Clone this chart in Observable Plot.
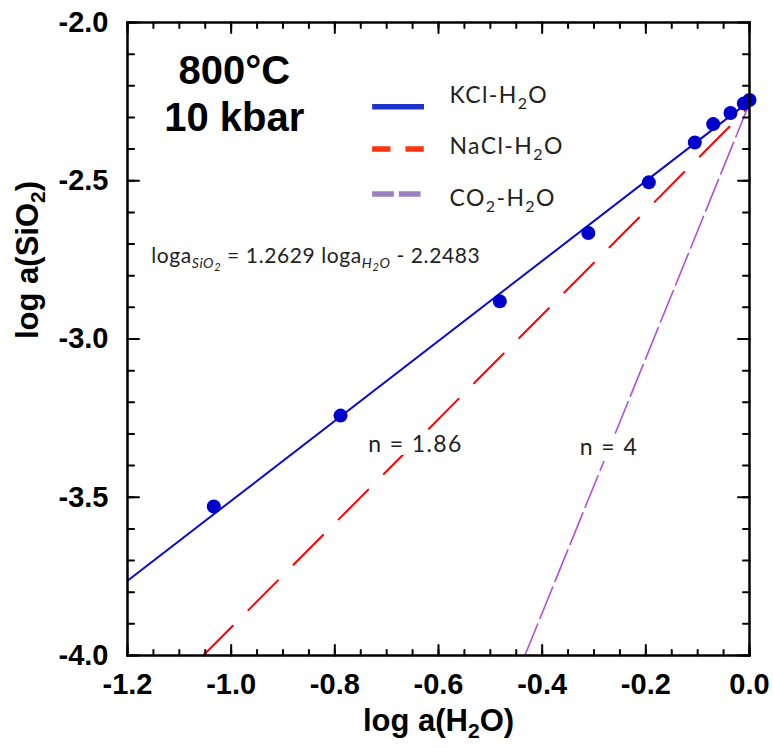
<!DOCTYPE html>
<html><head><meta charset="utf-8">
<script src="https://cdn.jsdelivr.net/npm/d3@7"></script>
<script src="https://cdn.jsdelivr.net/npm/@observablehq/plot@0.6"></script>
<style>
html,body{margin:0;padding:0;background:#fff;}
#chart{width:773px;height:748px;}
</style></head><body><div id="chart"></div>
<script>
// measured data (log a(H2O), log a(SiO2)) in KCl-H2O fluids
const pointX = [-1.0335, -0.789, -0.4817, -0.311, -0.1942, -0.1055, -0.0700, -0.0367, -0.0109, 0.0];
const pointY = [-3.529, -3.242, -2.881, -2.665, -2.505, -2.379, -2.321, -2.286, -2.256, -2.245];
// fitted KCl-H2O line endpoints
const kclFitX = [-1.2, 0.0];
const kclFitY = [-3.7638, -2.2483];
// NaCl-H2O reference line (n = 1.86)
const naclX = [-1.054, -0.004];
const naclY = [-4.0, -2.272];
// CO2-H2O reference line (n = 4)
const co2X = [-0.4334, -0.0044];
const co2Y = [-4.0, -2.273];
const legendLabels = ["KCl-H2O", "NaCl-H2O", "CO2-H2O"];
const xTicks = [-1.2, -1.0, -0.8, -0.6, -0.4, -0.2, 0.0];
const xTickLabels = ["-1.2", "-1.0", "-0.8", "-0.6", "-0.4", "-0.2", "0.0"];
const yTicks = [-2.0, -2.5, -3.0, -3.5, -4.0];
const yTickLabels = ["-2.0", "-2.5", "-3.0", "-3.5", "-4.0"];

const xMinor = d3.range(0, 25).map(i => -1.2 + i * 0.05);
const yMinor = d3.range(0, 21).map(i => -4.0 + i * 0.1);

const points = pointX.map((x, i) => ({x, y: pointY[i]}));
const kcl = kclFitX.map((x, i) => ({x, y: kclFitY[i]}));
const nacl = naclX.map((x, i) => ({x, y: naclY[i]}));
const co2 = co2X.map((x, i) => ({x, y: co2Y[i]}));

const tickShape = {draw(ctx, l) { ctx.moveTo(0, 0); ctx.lineTo(0, -l); }};
const tk = (data, ch, frameAnchor, rotate, length) =>
  Plot.vector(data, {[ch]: d => d, frameAnchor, rotate, length, anchor: "start", shape: tickShape, stroke: "black", strokeWidth: 2});

const sans = "'Liberation Sans', Arial, Helvetica, sans-serif";
const light = "Lato, 'Noto Sans', sans-serif";

const chart = Plot.plot({
  width: 773, height: 748,
  marginLeft: 127, marginRight: 24, marginTop: 22, marginBottom: 93,
  x: {domain: [-1.2, 0], axis: null},
  y: {domain: [-4, -2], axis: null},
  style: {fontFamily: sans, background: "white", color: "black"},
  marks: [
    Plot.line(kcl, {x: "x", y: "y", stroke: "#0a0ad0", strokeWidth: 2}),
    Plot.line(nacl, {x: "x", y: "y", stroke: "#ff0000", strokeWidth: 2, strokeDasharray: "42,22"}),
    Plot.line(co2, {x: "x", y: "y", stroke: "#b050e0", strokeWidth: 1.6, strokeDasharray: "34,6"}),
    Plot.dot(points, {x: "x", y: "y", r: 7, fill: "#0000cc", stroke: "none"}),
    // frame + inward ticks
    Plot.frame({stroke: "black", strokeWidth: 2.5}),
    tk(xMinor, "x", "bottom", 0, 5.5),
    tk(xTicks, "x", "bottom", 0, 10.5),
    tk(xMinor, "x", "top", 180, 5.5),
    tk(xTicks, "x", "top", 180, 10.5),
    tk(yMinor, "y", "left", 90, 6.5),
    tk(yTicks, "y", "left", 90, 11.5),
    tk(yMinor, "y", "right", -90, 6.5),
    tk(yTicks, "y", "right", -90, 11.5),
    // tick labels
    Plot.text(xTicks, {x: d => d, text: (d, i) => xTickLabels[i], frameAnchor: "bottom", lineAnchor: "top", dy: 18.4, fontSize: 29, fontWeight: "bold", fill: "black"}),
    Plot.text(yTicks, {y: d => d, text: (d, i) => yTickLabels[i], frameAnchor: "left", textAnchor: "end", lineAnchor: "middle", dx: -19, fontSize: 29, fontWeight: "bold", fill: "black"}),
    // axis titles
    Plot.text(["log a(H2O)"], {text: d => d, frameAnchor: "bottom", lineAnchor: "bottom", dy: 75, fontSize: 31, fontWeight: "bold", fill: "black"}),
    Plot.text(["log a(SiO2)"], {text: d => d, frameAnchor: "left", rotate: -90, lineAnchor: "bottom", dx: -89.5, fontSize: 31, fontWeight: "bold", fill: "black"}),
    // conditions
    Plot.text(["800°C"], {text: d => d, x: -0.994, y: -2.1945, lineAnchor: "bottom", fontSize: 40, fontWeight: "bold", fill: "black"}),
    Plot.text(["10 kbar"], {text: d => d, x: -0.994, y: -2.342, lineAnchor: "bottom", fontSize: 40, fontWeight: "bold", fill: "black"}),
    // legend
    Plot.link([0], {x1: -0.728, x2: -0.628, y1: -2.266, y2: -2.266, stroke: "#1e32c8", strokeWidth: 5.5}),
    Plot.link([1], {x1: -0.728, x2: -0.628, y1: -2.3998, y2: -2.3998, stroke: "#ff3311", strokeWidth: 5.5, strokeDasharray: "18.3,15"}),
    Plot.link([2], {x1: -0.728, x2: -0.628, y1: -2.5418, y2: -2.5418, stroke: "#9a80c0", strokeWidth: 5.5, strokeDasharray: "21.7,5"}),
    Plot.text([legendLabels[0]], {text: d => d, x: -0.5788, y: -2.2558, textAnchor: "start", lineAnchor: "bottom", fontSize: 23, fontFamily: light, fill: "#222"}),
    Plot.text([legendLabels[1]], {text: d => d, x: -0.5788, y: -2.4156, textAnchor: "start", lineAnchor: "bottom", fontSize: 23, fontFamily: light, fill: "#222"}),
    Plot.text([legendLabels[2]], {text: d => d, x: -0.5788, y: -2.5788, textAnchor: "start", lineAnchor: "bottom", fontSize: 23, fontFamily: light, fill: "#222"}),
    // annotations
    Plot.text(["EQUATION"], {text: d => d, x: -1.1543, y: -2.761, textAnchor: "start", lineAnchor: "bottom", fontSize: 21, fontFamily: light, fill: "#222"}),
    Plot.text(["n = 1.86"], {text: d => d, x: -0.7356, y: -3.3578, textAnchor: "start", lineAnchor: "bottom", fontSize: 23, fontFamily: light, fill: "#222", stroke: "white", strokeWidth: 16, paintOrder: "stroke"}),
    Plot.text(["n = 4"], {text: d => d, x: -0.3273, y: -3.368, textAnchor: "start", lineAnchor: "bottom", fontSize: 23, fontFamily: light, fill: "#222", stroke: "white", strokeWidth: 22, paintOrder: "stroke"})
  ]
});
document.getElementById("chart").appendChild(chart);

// rich text (subscripts)
const S = (t, shift, size, italic) => ({t, shift, size, italic});
const richMap = {
  "KCl-H2O": [S("KCl-H"), S("2", 6, 16), S("O")],
  "NaCl-H2O": [S("NaCl-H"), S("2", 6, 16), S("O")],
  "CO2-H2O": [S("CO"), S("2", 6, 16), S("-H"), S("2", 6, 16), S("O")],
  "log a(H2O)": [S("log a(H"), S("2", 7, 21), S("O)")],
  "log a(SiO2)": [S("log a(SiO"), S("2", 7, 21), S(")")],
  "EQUATION": [S("loga"), S("SiO", 5, 14, true), S("2", 8, 11, true), S(" = 1.2629 loga"), S("H", 5, 14, true), S("2", 8, 11, true), S("O", 5, 14, true), S(" - 2.2483")]
};
for (const el of chart.querySelectorAll("text")) {
  const parts = richMap[el.textContent];
  if (!parts) continue;
  while (el.firstChild) el.removeChild(el.firstChild);
  let cur = 0;
  for (const p of parts) {
    const ts = document.createElementNS("http://www.w3.org/2000/svg", "tspan");
    const shift = p.shift || 0;
    if (shift !== cur) { ts.setAttribute("dy", shift - cur); cur = shift; }
    if (p.size) ts.setAttribute("font-size", p.size);
    if (p.italic) ts.setAttribute("font-style", "italic");
    ts.textContent = p.t;
    el.appendChild(ts);
  }
}
// wider tracking for the light annotation font
for (const g of chart.querySelectorAll("g[font-family]")) {
  if (g.getAttribute("font-family").startsWith("Lato")) {
    const fs = +g.getAttribute("font-size");
    g.style.letterSpacing = fs === 21 ? "0.6px" : "1.4px";
  }
}
</script></body></html>
